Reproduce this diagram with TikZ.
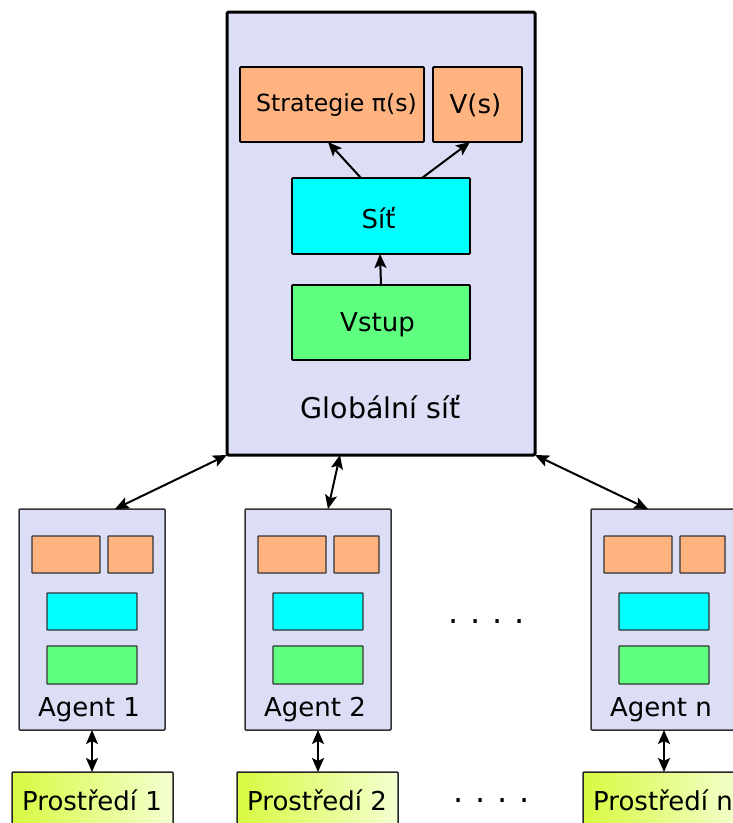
\documentclass[tikz,border=0pt]{standalone}
\usepackage{fontspec}
\setmainfont{DejaVu Sans}
\usetikzlibrary{arrows.meta}
\definecolor{lav}{HTML}{DBDEF5}
\definecolor{orng}{HTML}{FFB380}
\definecolor{cyn}{HTML}{00FFFF}
\definecolor{grn}{HTML}{5FFF7F}
\definecolor{envL}{HTML}{D6FA40}
\definecolor{envR}{HTML}{F4FFD2}
\newcommand\AgentUnit[3]{% #1 name, #2 left x, #3 label
  \node[abox, anchor=north west] (#1) at (#2,509) {};
  \node[sbox, fill=orng, anchor=north west, minimum width=68pt, minimum height=37pt] (#1o) at ([shift={(13,27)}]#1.north west) {};
  \node[sbox, fill=orng, anchor=north west, minimum width=45pt, minimum height=37pt] (#1v) at ([shift={(89,27)}]#1.north west) {};
  \node[sbox, fill=cyn, anchor=north west, minimum width=90pt, minimum height=37pt] (#1c) at ([shift={(28,84)}]#1.north west) {};
  \node[sbox, fill=grn, anchor=north west, minimum width=90pt, minimum height=38pt] (#1g) at ([shift={(28,137)}]#1.north west) {};
  \node[txt, anchor=base] (#1t) at ([shift={(70,207)}]#1.north west) {#3};
}
\begin{document}
\begin{tikzpicture}[x=1pt,y=-1pt,
  every node/.style={inner sep=0pt, outer sep=0pt},
  txt/.style={font=\fontsize{26}{31}\selectfont},
  dots/.style={font=\fontsize{32}{38}\selectfont},
  gbox/.style={draw=black, line width=3pt, fill=lav, rounded corners=1.5pt},
  ibox/.style={draw=black, line width=1.8pt, rounded corners=1pt},
  abox/.style={draw=black!80, line width=1.5pt, fill=lav, rounded corners=1pt, minimum width=146pt, minimum height=221pt},
  sbox/.style={draw=black!80, line width=1.2pt, rounded corners=0.5pt},
  ebox/.style={draw=black!85, line width=1.5pt, left color=envL, right color=envR, rounded corners=1pt, minimum width=161pt, minimum height=70pt},
  arrowtip/.tip={Stealth[length=14pt,width=12pt,inset=3pt]},
  conn/.style={arrowtip-arrowtip, line width=2pt},
  one/.style={-arrowtip, line width=2pt}
]
\clip (0,0) rectangle (733,823);
\useasboundingbox (0,0) rectangle (733,823);
% global network
\node[gbox, anchor=north west, minimum width=308pt, minimum height=443pt] (g) at (227,12) {};
\node[ibox, fill=orng, anchor=north west, minimum width=184pt, minimum height=75pt] (strat) at (240,67) {};
\node[ibox, fill=orng, anchor=north west, minimum width=89pt, minimum height=75pt] (vs) at (433,67) {};
\node[ibox, fill=cyn, anchor=north west, minimum width=178pt, minimum height=76pt] (sit) at (292,178) {};
\node[ibox, fill=grn, anchor=north west, minimum width=178pt, minimum height=75pt] (vst) at (292,285) {};
\node[anchor=base, font=\fontsize{23.6}{28}\selectfont] (stratt) at (336.5,111) {Strategie π(s)};
\node[txt, anchor=base] (vsl) at (475.5,113) {V(s)};
\node[txt, anchor=base] (sitt) at (378.5,228) {Síť};
\node[txt, anchor=base] (vstt) at (377.5,331) {Vstup};
\node[anchor=base, font=\fontsize{28.5}{34}\selectfont] (gt) at (380.5,418) {Globální síť};
\draw[one] ([xshift=69pt]sit.north west) -- ([xshift=88pt]strat.south west);
\draw[one] ([xshift=130pt]sit.north west) -- ([xshift=37pt]vs.south west);
\draw[one] ([xshift=89pt]vst.north west) -- ([xshift=88pt]sit.south west);
% agents
\AgentUnit{a1}{19}{Agent 1}
\AgentUnit{a2}{245}{Agent 2}
\AgentUnit{an}{591}{Agent n}
% environments
\node[ebox, anchor=north] (e1) at (92.5,772) {};
\node[ebox, anchor=north] (e2) at (317.5,772) {};
\node[ebox, anchor=north] (en) at (663.5,772) {};
\node[txt, anchor=base] (e1t) at (92,810) {Prostředí 1};
\node[txt, anchor=base] (e2t) at (317,810) {Prostředí 2};
\node[txt, anchor=base] (ent) at (663,810) {Prostředí n};
% connectors
\draw[conn] (g.south west) -- ([xshift=96pt]a1.north west);
\draw[conn] ([xshift=113pt]g.south west) -- ([xshift=83pt]a2.north west);
\draw[conn] (g.south east) -- ([xshift=57pt]an.north west);
\draw[conn] (a1.south) -- (a1.south |- e1.north);
\draw[conn] (a2.south) -- (a2.south |- e2.north);
\draw[conn] (an.south) -- (an.south |- en.north);
% dots
\node[dots, anchor=base] (d1) at (487,623) {.\hspace{11.8pt}.\hspace{11.8pt}.\hspace{11.8pt}.};
\node[dots, anchor=base] (d2) at (492,802) {.\hspace{11.8pt}.\hspace{11.8pt}.\hspace{11.8pt}.};
\end{tikzpicture}
\end{document}
